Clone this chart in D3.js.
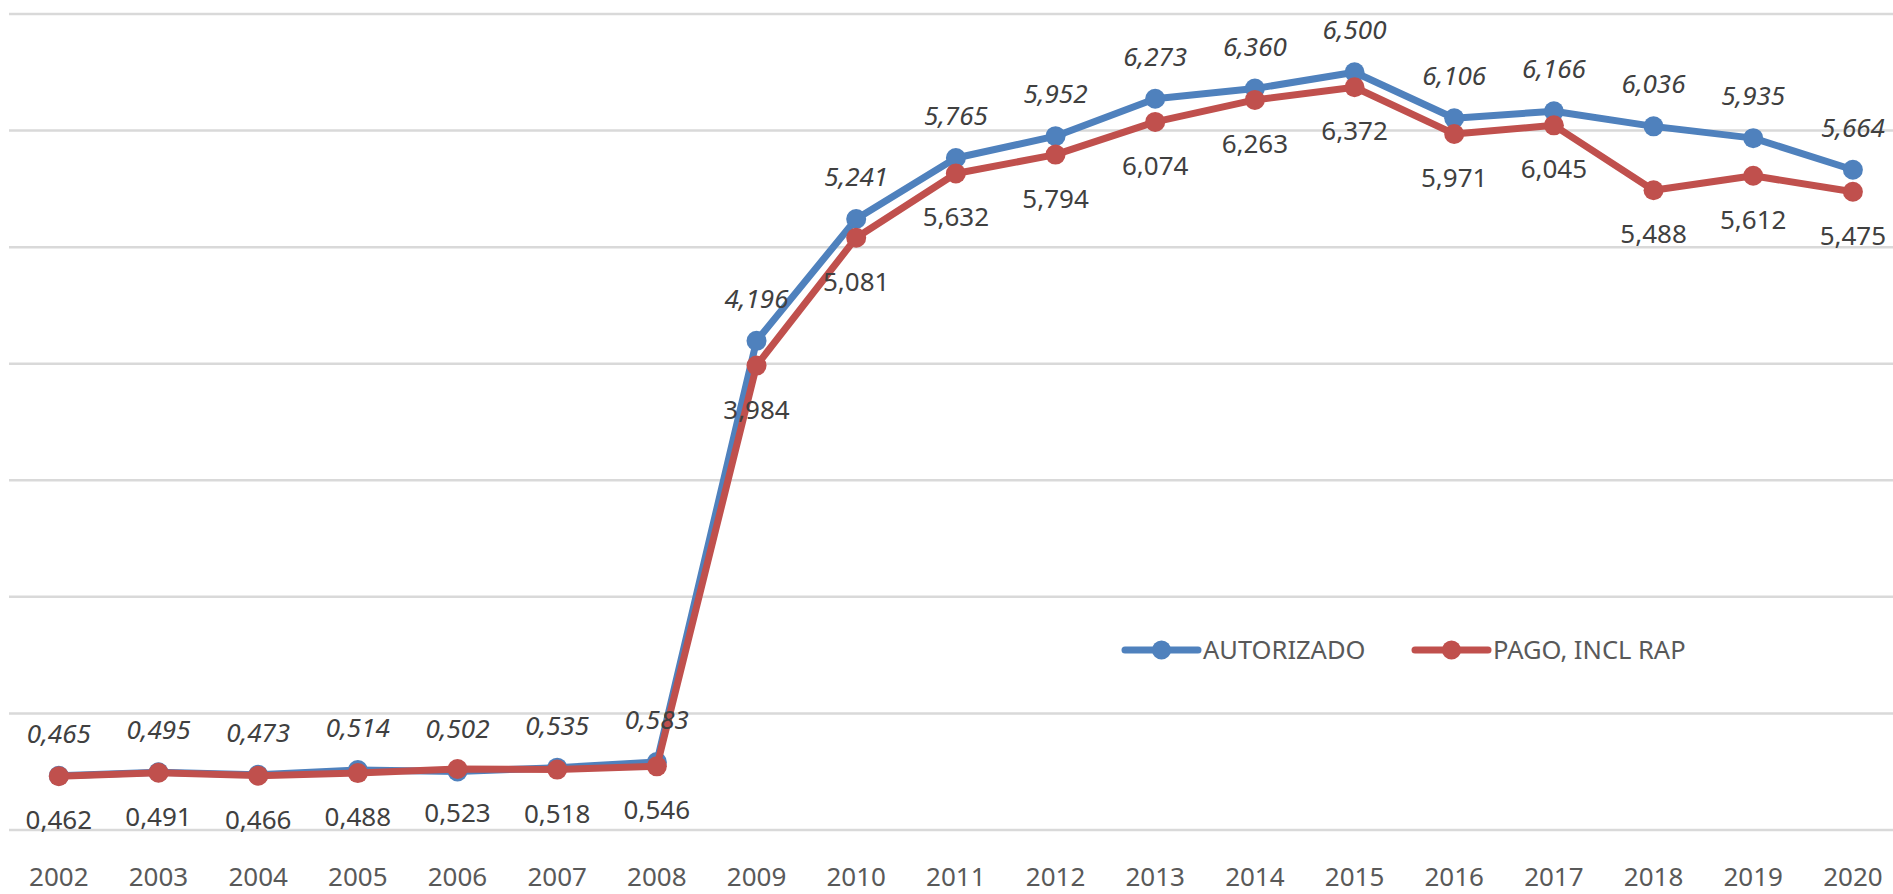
<!DOCTYPE html>
<html>
<head>
<meta charset="utf-8">
<script src="https://cdn.jsdelivr.net/npm/d3@7"></script>
<style>
  html, body { margin: 0; padding: 0; background: #fff; }
  svg { display: block; font-family: "Noto Sans", "Open Sans", sans-serif; }
</style>
</head>
<body>
<svg id="chart" width="1893" height="894"></svg>
<script>
/* ── DATA ─────────────────────────────────────────────────────────────────── */
const years = ['2002','2003','2004','2005','2006','2007','2008','2009','2010','2011',
               '2012','2013','2014','2015','2016','2017','2018','2019','2020'];
const autorizado = [0.465, 0.495, 0.473, 0.514, 0.502, 0.535, 0.583, 4.196, 5.241, 5.765,
                    5.952, 6.273, 6.360, 6.500, 6.106, 6.166, 6.036, 5.935, 5.664];
const pago       = [0.462, 0.491, 0.466, 0.488, 0.523, 0.518, 0.546, 3.984, 5.081, 5.632,
                    5.794, 6.074, 6.263, 6.372, 5.971, 6.045, 5.488, 5.612, 5.475];
const yTicks = [0, 1, 2, 3, 4, 5, 6, 7];

const BLUE = '#4F81BD';
const RED  = '#C0504D';

/* ── SCALES ───────────────────────────────────────────────────────────────── */
const svg = d3.select('#chart');
const x = d3.scaleBand().domain(years).range([9, 9 + 19 * 99.67]);
const y = d3.scaleLinear().domain([0, 7]).range([830, 14]);
const cx = d => x(d) + x.bandwidth() / 2;
const fmt = v => d3.format('.3f')(v).replace('.', ',');

/* ── GRID ─────────────────────────────────────────────────────────────────── */
svg.append('g')
  .selectAll('line')
  .data(yTicks)
  .join('line')
  .attr('x1', 9).attr('x2', 1893)
  .attr('y1', d => y(d)).attr('y2', d => y(d))
  .attr('stroke', '#d9d9d9')
  .attr('stroke-width', 2.5);

/* ── X AXIS LABELS ────────────────────────────────────────────────────────── */
svg.append('g')
  .selectAll('text')
  .data(years)
  .join('text')
  .attr('x', d => cx(d))
  .attr('y', 886)
  .attr('text-anchor', 'middle')
  .attr('font-size', 26)
  .attr('fill', '#595959')
  .text(d => d);

/* ── SERIES ───────────────────────────────────────────────────────────────── */
function drawSeries(values, color) {
  const g = svg.append('g');
  const line = d3.line().x((d, i) => cx(years[i])).y(d => y(d));
  g.append('path')
    .datum(values)
    .attr('d', line)
    .attr('fill', 'none')
    .attr('stroke', color)
    .attr('stroke-width', 7)
    .attr('stroke-linejoin', 'round')
    .attr('stroke-linecap', 'round');
  g.selectAll('circle')
    .data(values)
    .join('circle')
    .attr('cx', (d, i) => cx(years[i]))
    .attr('cy', d => y(d))
    .attr('r', 10)
    .attr('fill', color);
}

function drawLabels(values, labelDy, italic) {
  svg.append('g')
    .selectAll('text')
    .data(values)
    .join('text')
    .attr('x', (d, i) => cx(years[i]))
    .attr('y', d => y(d) + labelDy)
    .attr('text-anchor', 'middle')
    .attr('font-size', 26)
    .attr('font-style', italic ? 'italic' : 'normal')
    .attr('fill', '#404040')
    .text(d => fmt(d));
}

drawSeries(autorizado, BLUE);
drawSeries(pago, RED);
drawLabels(autorizado, -33, true);
drawLabels(pago, 53, false);

/* ── LEGEND ───────────────────────────────────────────────────────────────── */
const legendItems = [
  { label: 'AUTORIZADO',     color: BLUE, x: 1125 },
  { label: 'PAGO, INCL RAP', color: RED,  x: 1415 }
];
const lg = svg.append('g').selectAll('g')
  .data(legendItems)
  .join('g')
  .attr('transform', d => `translate(${d.x},650)`);
lg.append('line')
  .attr('x1', 0).attr('x2', 73)
  .attr('stroke', d => d.color)
  .attr('stroke-width', 7)
  .attr('stroke-linecap', 'round');
lg.append('circle')
  .attr('cx', 36.5).attr('r', 9.5)
  .attr('fill', d => d.color);
lg.append('text')
  .attr('x', 78)
  .attr('y', 8.5)
  .attr('font-size', 25.5)
  .attr('fill', '#595959')
  .text(d => d.label);
</script>
</body>
</html>
